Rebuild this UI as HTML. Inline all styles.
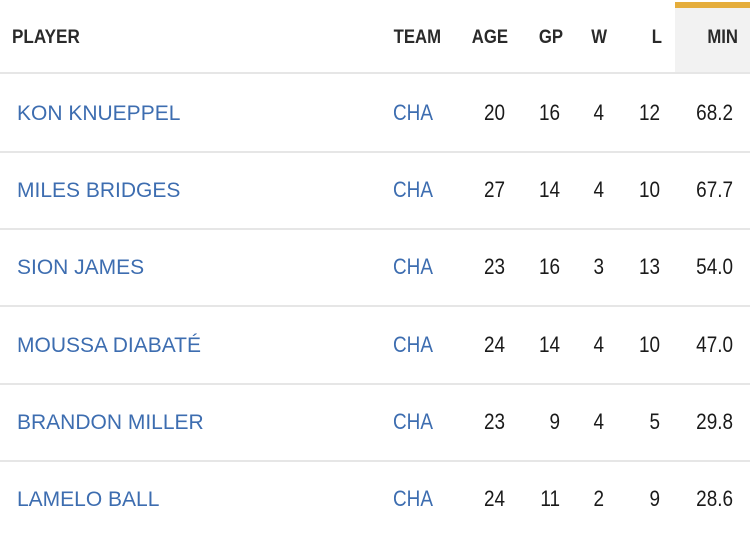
<!DOCTYPE html>
<html><head><meta charset="utf-8"><style>
body{margin:0;width:750px;height:533px;background:#fff;position:relative;overflow:hidden;font-family:"Liberation Sans",sans-serif}
.t{position:absolute;white-space:nowrap;line-height:1}
.h{font-weight:bold;font-size:19px;color:#2a2a2a;top:28px}
.n{font-size:21px;color:#3d6db0;left:17px}
.c{font-size:22px;color:#3d6db0;left:393px;transform:scaleX(.86);transform-origin:left}
.v{font-size:22px;color:#1a1a1a;text-align:right;width:60px;transform:scaleX(.86);transform-origin:right}
.hr{position:absolute;left:0;width:750px;height:2px;background:#e6e6e6}
.hh{transform:scaleX(.88);transform-origin:right;text-align:right;width:60px}
</style></head><body>
<div style="position:absolute;left:675px;top:2px;width:75px;height:6px;background:#e5ad3b"></div>
<div style="position:absolute;left:675px;top:8px;width:75px;height:65px;background:#f2f2f2"></div>
<div class="t h" style="left:12px;transform:scaleX(.9);transform-origin:left">PLAYER</div>
<div class="t h hh" style="left:381px">TEAM</div>
<div class="t h hh" style="left:448px">AGE</div>
<div class="t h hh" style="left:503px">GP</div>
<div class="t h hh" style="left:547px">W</div>
<div class="t h hh" style="left:602px">L</div>
<div class="t h hh" style="left:678px">MIN</div>
<div class="hr" style="top:72px"></div>
<div id="rows"></div>
<script>
var d=[["KON KNUEPPEL",20,16,4,12,"68.2"],["MILES BRIDGES",27,14,4,10,"67.7"],["SION JAMES",23,16,3,13,"54.0"],["MOUSSA DIABATÉ",24,14,4,10,"47.0"],["BRANDON MILLER",23,9,4,5,"29.8"],["LAMELO BALL",24,11,2,9,"28.6"]];
var h="",rights=[505,560,604,660,733];
d.forEach(function(r,i){var y=113+i*77.2-10;
h+='<div class="t n" style="top:'+y+'px">'+r[0]+'</div><div class="t c" style="top:'+(y-1)+'px">CHA</div>';
for(var k=1;k<6;k++)h+='<div class="t v" style="top:'+(y-1)+'px;left:'+(rights[k-1]-60)+'px">'+r[k]+'</div>';
if(i<5)h+='<div class="hr" style="top:'+Math.round(151+i*77.2)+'px"></div>';});
document.getElementById("rows").innerHTML=h;
</script>
</body></html>
